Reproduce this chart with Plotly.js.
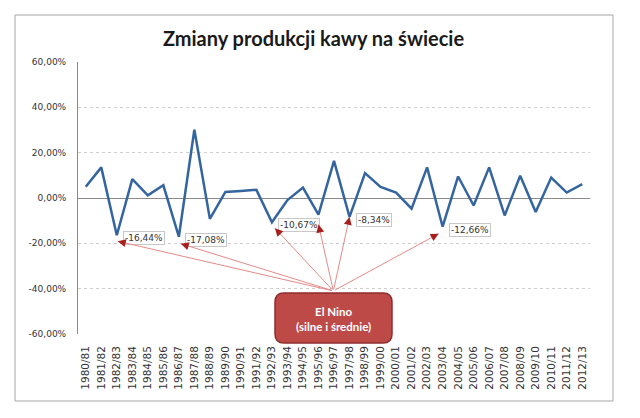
<!DOCTYPE html>
<html>
<head>
<meta charset="utf-8">
<script src="https://cdn.plot.ly/plotly-3.0.1.min.js"></script>
<style>
  html, body { margin: 0; padding: 0; background: #ffffff; }
  #chart { width: 640px; height: 418px; }
</style>
</head>
<body>
<div id="chart"></div>
<script>
// ---- data ----
const seasons = ['1980/81','1981/82','1982/83','1983/84','1984/85','1985/86','1986/87','1987/88',
  '1988/89','1989/90','1990/91','1991/92','1992/93','1993/94','1994/95','1995/96','1996/97',
  '1997/98','1998/99','1999/00','2000/01','2001/02','2002/03','2003/04','2004/05','2005/06',
  '2006/07','2007/08','2008/09','2009/10','2010/11','2011/12','2012/13'];
const changePct = [5.0, 13.5, -16.44, 8.3, 1.2, 5.6, -17.08, 30.1, -9.2, 2.7, 3.1, 3.6, -10.67,
  -0.9, 4.6, -7.3, 16.4, -8.34, 11.0, 4.9, 2.4, -4.7, 13.5, -12.66, 9.5, -3.3, 13.5, -7.7,
  9.8, -6.2, 9.0, 2.4, 6.1];
const labelledSeasons = ['1982/83','1986/87','1992/93','1997/98','2003/04'];
const elNinoSeasons = ['1982/83','1986/87','1992/93','1995/96','1997/98','2003/04'];
const yTickVals = [-60, -40, -20, 0, 20, 40, 60];
const yTickText = ['-60,00%','-40,00%','-20,00%','0,00%','20,00%','40,00%','60,00%'];
const titleText = 'Zmiany produkcji kawy na świecie';
const boxText = 'El Nino<br>(silne i średnie)';

// ---- layout helpers ----
const M = {l: 78, r: 50, t: 62, b: 84};
const W = 640, H = 418;
const plotW = W - M.l - M.r, plotH = H - M.t - M.b;
const pxPerCat = plotW / seasons.length, pxPerPct = plotH / 120;
const tailX = 15.96, tailY = -41.0;   // convergence point of arrows (top of El Nino box)
// pixel offset of each arrow head from its data point (placement only)
const headShift = {'1982/83': [1, -6], '1986/87': [2, -7], '1992/93': [3, -6],
                   '1995/96': [0, -10], '1997/98': [0, 0], '2003/04': [-4, -7]};

const fmt = v => (v < 0 ? '-' : '') + Math.abs(v).toFixed(2).replace('.', ',') + '%';

const annotations = [];
// value labels (drawn first so arrows sit on top)
labelledSeasons.forEach(s => {
  const i = seasons.indexOf(s);
  annotations.push({x: i, y: changePct[i], xref: 'x', yref: 'y', text: fmt(changePct[i]),
    showarrow: false, xanchor: 'left', yanchor: 'middle', xshift: 6, yshift: -3,
    bgcolor: '#ffffff', bordercolor: '#c8c8c8', borderwidth: 1, borderpad: 1,
    font: {family: 'DejaVu Sans', size: 9, color: '#333333'}});
});
// arrows: thin light line + dark head
elNinoSeasons.forEach(s => {
  const i = seasons.indexOf(s);
  const v = changePct[i];
  const [sx, sy] = headShift[s];
  const tX = tailX - sx / pxPerCat, tY = tailY - sy / pxPerPct;
  annotations.push({x: i, y: v, xref: 'x', yref: 'y', ax: tX, ay: tY, axref: 'x', ayref: 'y',
    xshift: sx, yshift: sy,
    text: '', showarrow: true, arrowhead: 0, arrowwidth: 1, arrowcolor: '#e58a87', standoff: 0});
  const dx = (tX - i) * pxPerCat, dy = (tY - v) * pxPerPct;
  const len = Math.sqrt(dx * dx + dy * dy);
  const t = 8 / len;
  annotations.push({x: i, y: v, xref: 'x', yref: 'y', ax: i + t * (tX - i), ay: v + t * (tY - v),
    axref: 'x', ayref: 'y', xshift: sx, yshift: sy, text: '', showarrow: true, arrowhead: 2,
    arrowsize: 1.6, arrowwidth: 1, arrowcolor: '#a8201d', standoff: 0});
});

// El Nino box (rounded rectangle, paper coords)
const bx0 = (275 - M.l) / plotW, bx1 = (392 - M.l) / plotW;
const by1 = (M.t + plotH - 293) / plotH, by0 = (M.t + plotH - 343) / plotH;
const rx = 9 / plotW, ry = 9 / plotH;
const boxPath = `M ${bx0 + rx} ${by1} L ${bx1 - rx} ${by1} Q ${bx1} ${by1} ${bx1} ${by1 - ry} ` +
  `L ${bx1} ${by0 + ry} Q ${bx1} ${by0} ${bx1 - rx} ${by0} L ${bx0 + rx} ${by0} ` +
  `Q ${bx0} ${by0} ${bx0} ${by0 + ry} L ${bx0} ${by1 - ry} Q ${bx0} ${by1} ${bx0 + rx} ${by1} Z`;

annotations.push({x: (bx0 + bx1) / 2, y: (by0 + by1) / 2, xref: 'paper', yref: 'paper',
  text: '<b>' + boxText.replace('<br>', '</b><br><b>') + '</b>', showarrow: false, align: 'center',
  xanchor: 'center', yanchor: 'middle', yshift: -1,
  font: {family: 'Lato', size: 11.5, color: '#ffffff'}});

const shapes = [
  {type: 'rect', xref: 'paper', yref: 'paper',
   x0: (15 - M.l) / plotW, x1: (613 - M.l) / plotW,
   y0: (M.t + plotH - 401) / plotH, y1: (M.t + plotH - 15) / plotH,
   line: {color: '#a6a6a6', width: 1}, fillcolor: 'rgba(0,0,0,0)', layer: 'below'},
  {type: 'path', xref: 'paper', yref: 'paper', path: boxPath,
   fillcolor: '#bd4a47', line: {color: '#8e2e2c', width: 1.5}, layer: 'above'}
];

const trace = {
  x: seasons, y: changePct, type: 'scatter', mode: 'lines',
  line: {color: '#34659f', width: 2.5}, hoverinfo: 'skip'
};

const layout = {
  width: W, height: H,
  margin: M,
  paper_bgcolor: '#ffffff', plot_bgcolor: '#ffffff',
  showlegend: false,
  title: {text: '<b>' + titleText + '</b>', x: 313.5 / W, xref: 'container', xanchor: 'center',
    y: 1 - 39 / H, yref: 'container', yanchor: 'middle',
    font: {family: 'Lato', size: 20, color: '#1a1a1a'}},
  xaxis: {type: 'category', range: [-0.5, seasons.length - 0.5], tickangle: -90,
    showgrid: false, zeroline: false, showline: false, ticks: '', ticklabelstandoff: 9,
    tickfont: {family: 'DejaVu Sans', size: 10.5, color: '#333333'}, fixedrange: true},
  yaxis: {range: [-60, 60], tickvals: yTickVals, ticktext: yTickText,
    showgrid: true, gridcolor: '#cfcfcf', griddash: 'dot', gridwidth: 1,
    zeroline: true, zerolinecolor: '#8a8a8a', zerolinewidth: 1,
    showline: true, linecolor: '#8a8a8a', linewidth: 1, ticks: '', ticklabelstandoff: 9,
    tickfont: {family: 'DejaVu Sans', size: 9, color: '#333333'}, fixedrange: true},
  annotations: annotations,
  shapes: shapes
};

Plotly.newPlot('chart', [trace], layout, {displayModeBar: false, staticPlot: true});
</script>
</body>
</html>
